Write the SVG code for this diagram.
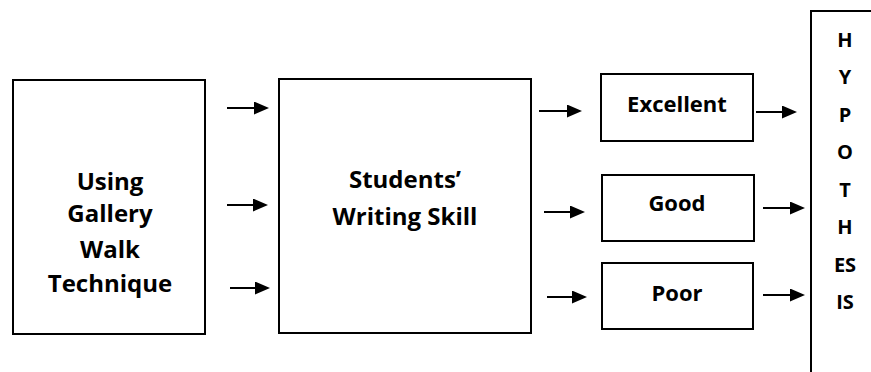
<svg xmlns="http://www.w3.org/2000/svg" width="871" height="372" viewBox="0 0 871 372">
<style>
.box{fill:#fff;stroke:#000;stroke-width:2}
.t{font-family:"Open Sans","Liberation Sans",sans-serif;font-weight:bold;fill:#000;text-anchor:middle}
.big{font-size:24px}
.mid{font-size:22px}
.sm{font-size:20px}
.arr{stroke:#000;stroke-width:2;fill:none;marker-end:url(#ah)}
</style>
<defs>
<marker id="ah" markerUnits="userSpaceOnUse" markerWidth="15" markerHeight="13" refX="2" refY="6.5" orient="auto">
<path d="M0,0 L15,6.5 L0,13 z" fill="#000"/>
</marker>
</defs>
<rect width="871" height="372" fill="#fff"/>
<g id="technique">
<rect class="box" x="13" y="80" width="192" height="254"/>
<text class="t big" x="110" y="190">Using</text>
<text class="t big" x="110" y="222">Gallery</text>
<text class="t big" x="110" y="258">Walk</text>
<text class="t big" x="110" y="292">Technique</text>
</g>
<g id="writing">
<rect class="box" x="279" y="79" width="252" height="254"/>
<text class="t big" x="405" y="188">Students’</text>
<text class="t big" x="405" y="225">Writing Skill</text>
</g>
<g id="excellent">
<rect class="box" x="601" y="74" width="152" height="67"/>
<text class="t mid" x="677" y="112">Excellent</text>
</g>
<g id="good">
<rect class="box" x="602" y="175" width="152" height="66"/>
<text class="t mid" x="677" y="211">Good</text>
</g>
<g id="poor">
<rect class="box" x="602" y="263" width="151" height="66"/>
<text class="t mid" x="677" y="301">Poor</text>
</g>
<g id="hypothesis">
<rect class="box" x="811" y="11" width="120" height="400"/>
<text class="t sm" x="845" y="47">H</text>
<text class="t sm" x="845" y="84">Y</text>
<text class="t sm" x="845" y="122">P</text>
<text class="t sm" x="845" y="159">O</text>
<text class="t sm" x="845" y="197">T</text>
<text class="t sm" x="845" y="234">H</text>
<text class="t sm" x="845" y="272">ES</text>
<text class="t sm" x="845" y="309">IS</text>
</g>
<g id="connectors">
<line class="arr" x1="227" y1="108" x2="256" y2="108"/>
<line class="arr" x1="227" y1="205" x2="255" y2="205"/>
<line class="arr" x1="230" y1="288" x2="257" y2="288"/>
<line class="arr" x1="539" y1="111" x2="569" y2="111"/>
<line class="arr" x1="544" y1="212" x2="572" y2="212"/>
<line class="arr" x1="547" y1="297" x2="574" y2="297"/>
<line class="arr" x1="756" y1="112" x2="784" y2="112"/>
<line class="arr" x1="763" y1="208" x2="792" y2="208"/>
<line class="arr" x1="763" y1="295" x2="792" y2="295"/>
</g>
</svg>
